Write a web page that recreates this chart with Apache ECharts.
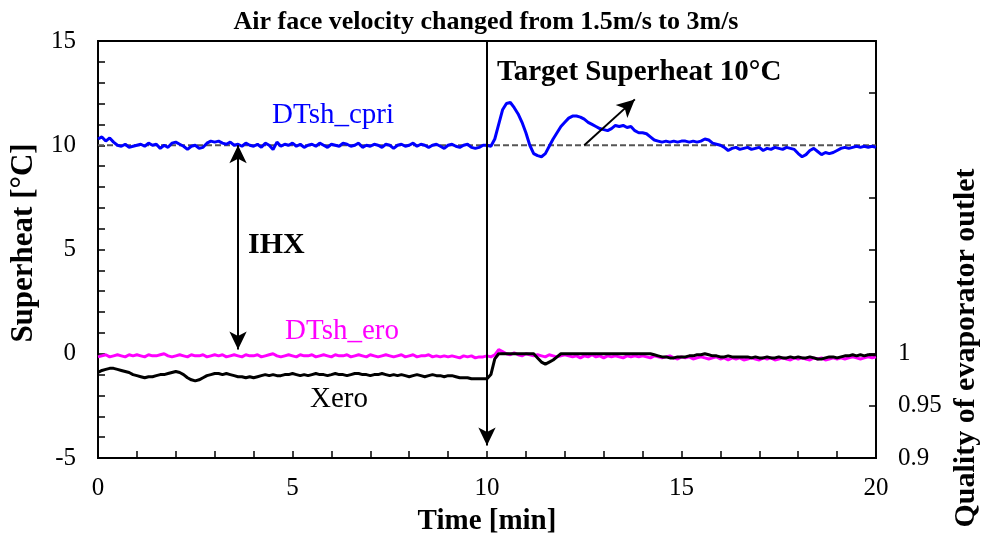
<!DOCTYPE html>
<html><head><meta charset="utf-8">
<script src="https://cdn.jsdelivr.net/npm/echarts@6/dist/echarts.min.js"></script>
<style>html,body{margin:0;padding:0;background:#fff}#c{width:990px;height:543px}</style>
</head><body><div id="c"></div><script>
// time step between samples (min)
const timeStep = 0.1;

// DTsh_cpri superheat [°C], t = 0.0 .. 20.0 min
const dtshCpri = [
10.3,10.4,10.2,10.35,10.15,10.0,9.95,10.05,9.9,9.95,
10.0,10.05,9.95,10.1,10.0,10.05,9.85,10.0,9.9,10.1,
10.15,10.05,9.95,9.8,9.95,10.0,9.85,9.9,10.1,10.2,
10.15,10.2,10.1,10.05,10.15,10.0,10.05,9.95,10.1,10.0,
9.95,10.05,9.9,10.1,10.0,9.8,10.15,9.95,10.05,10.0,
10.1,9.95,10.05,9.9,10.0,10.05,9.95,10.1,10.0,9.9,
10.05,10.0,9.95,10.1,10.05,9.95,10.0,10.1,9.9,10.0,
9.95,10.05,10.0,9.9,10.05,10.0,9.85,10.0,10.05,9.95,
10.0,10.1,9.95,10.05,10.0,9.9,10.0,10.05,9.95,9.85,
10.0,10.05,9.95,9.9,10.0,10.05,9.9,9.85,9.9,10.0,
10.0,
9.95,10.3,11.0,11.7,12.0,12.05,11.8,11.5,11.1,10.6,
10.0,9.6,9.5,9.45,9.6,9.95,10.3,10.6,10.9,11.1,
11.3,11.4,11.4,11.35,11.25,11.1,11.0,10.9,10.8,10.75,
10.7,10.8,10.95,10.9,10.95,10.85,10.9,10.7,10.6,10.6,
10.55,10.4,10.25,10.2,10.15,10.2,10.15,10.2,10.15,10.2,
10.2,10.15,10.2,10.15,10.2,10.3,10.25,10.1,10.05,10.0,
9.9,9.75,9.85,9.9,9.8,9.85,9.9,9.8,9.85,9.9,
9.75,9.85,9.8,9.9,9.85,9.8,9.9,9.85,9.8,9.6,
9.45,9.55,9.75,9.85,9.7,9.55,9.65,9.6,9.65,9.75,
9.85,9.9,9.85,9.9,9.95,9.9,9.95,9.9,9.95,9.9
];

// DTsh_ero superheat [°C], t = 0.0 .. 20.0 min
const dtshEro = [
-0.15,-0.1,-0.05,-0.15,-0.1,-0.05,-0.1,-0.15,-0.05,-0.1,
-0.05,-0.1,-0.15,-0.05,-0.1,-0.1,-0.05,0.0,-0.1,-0.15,
-0.1,-0.05,-0.1,-0.15,-0.05,-0.1,-0.1,-0.05,-0.15,-0.1,
-0.05,-0.1,-0.05,-0.15,-0.1,-0.05,-0.1,-0.15,-0.05,-0.1,
-0.1,-0.05,-0.15,-0.1,-0.05,0.0,-0.1,-0.15,-0.1,-0.05,
-0.1,-0.15,-0.05,-0.1,-0.1,-0.05,-0.15,-0.1,-0.05,-0.1,
-0.15,-0.05,-0.1,-0.1,-0.05,-0.15,-0.1,-0.05,-0.1,-0.15,
-0.05,-0.1,-0.15,-0.1,-0.05,-0.1,-0.15,-0.1,-0.05,-0.15,
-0.1,-0.05,-0.15,-0.1,-0.1,-0.05,-0.15,-0.1,-0.15,-0.1,
-0.15,-0.1,-0.15,-0.2,-0.1,-0.15,-0.1,-0.2,-0.15,-0.15,
-0.1,
-0.15,-0.05,0.2,0.1,0.0,-0.05,0.05,-0.05,-0.1,0.0,
-0.05,-0.1,-0.05,-0.1,-0.15,-0.05,-0.1,-0.15,-0.1,-0.05,
-0.1,-0.15,-0.1,-0.2,-0.1,-0.15,-0.05,-0.15,-0.1,-0.2,
-0.1,-0.15,-0.1,-0.15,-0.2,-0.1,-0.15,-0.1,-0.15,-0.1,
-0.15,-0.2,-0.1,-0.15,-0.2,-0.15,-0.1,-0.2,-0.25,-0.15,
-0.2,-0.15,-0.25,-0.2,-0.15,-0.2,-0.25,-0.2,-0.15,-0.25,
-0.2,-0.3,-0.2,-0.25,-0.2,-0.3,-0.25,-0.2,-0.25,-0.3,
-0.2,-0.25,-0.2,-0.3,-0.25,-0.2,-0.25,-0.3,-0.2,-0.25,
-0.2,-0.25,-0.3,-0.2,-0.25,-0.2,-0.3,-0.25,-0.2,-0.25,
-0.2,-0.25,-0.2,-0.15,-0.2,-0.25,-0.2,-0.15,-0.2,-0.15
];

// Xero quality of evaporator outlet [-], t = 0.0 .. 20.0 min
const xero = [
0.982,0.984,0.985,0.986,0.986,0.985,0.984,0.983,0.982,0.980,
0.979,0.978,0.977,0.978,0.978,0.979,0.980,0.980,0.981,0.982,
0.983,0.982,0.980,0.977,0.975,0.974,0.975,0.977,0.979,0.980,
0.981,0.981,0.980,0.981,0.980,0.979,0.978,0.978,0.977,0.978,
0.977,0.978,0.979,0.980,0.979,0.980,0.979,0.979,0.980,0.980,
0.981,0.980,0.979,0.980,0.979,0.980,0.981,0.980,0.980,0.979,
0.980,0.981,0.980,0.980,0.979,0.980,0.981,0.981,0.980,0.980,
0.979,0.980,0.980,0.981,0.980,0.979,0.980,0.979,0.980,0.979,
0.978,0.979,0.980,0.979,0.978,0.979,0.980,0.979,0.979,0.978,
0.979,0.979,0.978,0.977,0.977,0.977,0.976,0.976,0.976,0.976,
0.976,
0.980,0.995,1.0,1.0,1.0,1.0,1.0,1.0,1.0,1.0,
1.0,1.0,0.996,0.992,0.990,0.992,0.994,0.997,1.0,1.0,
1.0,1.0,1.0,1.0,1.0,1.0,1.0,1.0,1.0,1.0,
1.0,1.0,1.0,1.0,1.0,1.0,1.0,1.0,1.0,1.0,
1.0,1.0,0.999,0.998,0.997,0.997,0.996,0.996,0.997,0.997,
0.997,0.998,0.998,0.999,0.999,1.0,0.999,0.998,0.998,0.997,
0.997,0.998,0.997,0.997,0.997,0.997,0.997,0.996,0.997,0.996,
0.996,0.997,0.996,0.996,0.997,0.996,0.996,0.997,0.996,0.997,
0.996,0.996,0.997,0.996,0.995,0.995,0.996,0.997,0.997,0.996,
0.997,0.998,0.998,0.999,0.998,0.999,0.998,0.999,0.999,0.999
];

// reference / annotation values
const targetSuperheat = 10;
const timeRange = [0, 20];
const changeTime = 10;
const ihxTime = 3.6;
const ihxRange = [10, 0.2];
const targetArrow = [[12.5, 10], [13.8, 12.2]];

const serif = 'Liberation Serif';
function pairs(arr) { return arr.map((v, i) => [Math.round(i * timeStep * 10) / 10, v]); }

const chart = echarts.init(document.getElementById('c'));
const axisLine = { show: true, onZero: false, lineStyle: { color: '#000', width: 1.8 } };
const tick = { show: true, inside: true, length: 7, lineStyle: { color: '#000', width: 1.5 } };
const minorTick = { show: true, splitNumber: 5, length: 7, lineStyle: { color: '#000', width: 1.5 } };

chart.setOption({
  animation: false,
  backgroundColor: '#fff',
  grid: { left: 98, right: 114, top: 41, bottom: 85, outerBoundsMode: 'none', containLabel: false, show: true, borderColor: '#000', borderWidth: 1.8, backgroundColor: 'transparent' },
  title: {
    text: 'Air face velocity changed from 1.5m/s to 3m/s',
    left: 481, top: 4, textAlign: 'center',
    textStyle: { fontFamily: serif, fontWeight: 'bold', fontSize: 26, color: '#000' }
  },
  xAxis: {
    type: 'value', min: timeRange[0], max: timeRange[1], interval: 5,
    name: 'Time [min]', nameLocation: 'middle', nameGap: 49,
    nameTextStyle: { fontFamily: serif, fontWeight: 'bold', fontSize: 29, color: '#000' },
    axisLine: axisLine, axisTick: tick, minorTick: minorTick,
    splitLine: { show: false },
    axisLabel: { fontFamily: serif, fontSize: 25, color: '#000', margin: 18 }
  },
  yAxis: [{
    type: 'value', min: -5, max: 15, interval: 5,
    axisLine: axisLine, axisTick: tick, minorTick: minorTick,
    splitLine: { show: false },
    axisLabel: { fontFamily: serif, fontSize: 25, color: '#000', margin: 22 }
  }, {
    type: 'value', min: 0.9, max: 1.3, interval: 0.05, position: 'right',
    axisLine: axisLine, axisTick: tick,
    splitLine: { show: false },
    axisLabel: {
      fontFamily: serif, fontSize: 25, color: '#000', margin: 22,
      formatter: v => (v <= 1.0001 ? String(Number(v.toFixed(2))) : '')
    }
  }],
  graphic: [
    { type: 'text', left: 272, top: 101, style: { text: 'DTsh_cpri', fontFamily: serif, fontSize: 29, fill: '#0000FF' } },
    { type: 'text', left: 285, top: 317, style: { text: 'DTsh_ero', fontFamily: serif, fontSize: 29, fill: '#FF00FF' } },
    { type: 'text', left: 310, top: 385, style: { text: 'Xero', fontFamily: serif, fontSize: 29, fill: '#000' } },
    { type: 'text', left: 248, top: 230, style: { text: 'IHX', fontFamily: serif, fontSize: 30, fontWeight: 'bold', fill: '#000' } },
    { type: 'text', left: 497, top: 58, style: { text: 'Target Superheat 10°C', fontFamily: serif, fontSize: 29, fontWeight: 'bold', fill: '#000' } },
    { type: 'text', x: 24, y: 243, rotation: Math.PI / 2, style: { text: 'Superheat [°C]', fontFamily: serif, fontSize: 31, fontWeight: 'bold', fill: '#000', align: 'center', verticalAlign: 'middle' } },
    { type: 'text', x: 966, y: 348, rotation: Math.PI / 2, style: { text: 'Quality of evaporator outlet', fontFamily: serif, fontSize: 30, fontWeight: 'bold', fill: '#000', align: 'center', verticalAlign: 'middle' } }
  ],
  series: [
    {
      name: 'Target', type: 'line', xAxisIndex: 0, yAxisIndex: 0, symbol: 'none', silent: true,
      data: [[timeRange[0], targetSuperheat], [timeRange[1], targetSuperheat]],
      lineStyle: { color: '#555', width: 2, type: [6, 3] }, z: 1,
      markLine: {
        silent: true, animation: false, label: { show: false },
        lineStyle: { color: '#000', width: 2, type: 'solid' },
        symbolSize: [13, 18],
        data: [
          [{ coord: [changeTime, 15], symbol: 'none' }, { coord: [changeTime, -4.4], symbol: 'arrow' }],
          [{ coord: [ihxTime, ihxRange[0]], symbol: 'arrow' }, { coord: [ihxTime, ihxRange[1]], symbol: 'arrow' }],
          [{ coord: targetArrow[0], symbol: 'none' }, { coord: targetArrow[1], symbol: 'arrow' }]
        ]
      }
    },
    {
      name: 'DTsh_ero', type: 'line', xAxisIndex: 0, yAxisIndex: 0, symbol: 'none', z: 2,
      data: pairs(dtshEro), lineStyle: { color: '#FF00FF', width: 3 }
    },
    {
      name: 'Xero', type: 'line', xAxisIndex: 0, yAxisIndex: 1, symbol: 'none', z: 3,
      data: pairs(xero), lineStyle: { color: '#000', width: 3 }
    },
    {
      name: 'DTsh_cpri', type: 'line', xAxisIndex: 0, yAxisIndex: 0, symbol: 'none', z: 4,
      data: pairs(dtshCpri), lineStyle: { color: '#0000FF', width: 3 }
    }
  ]
});
</script></body></html>
